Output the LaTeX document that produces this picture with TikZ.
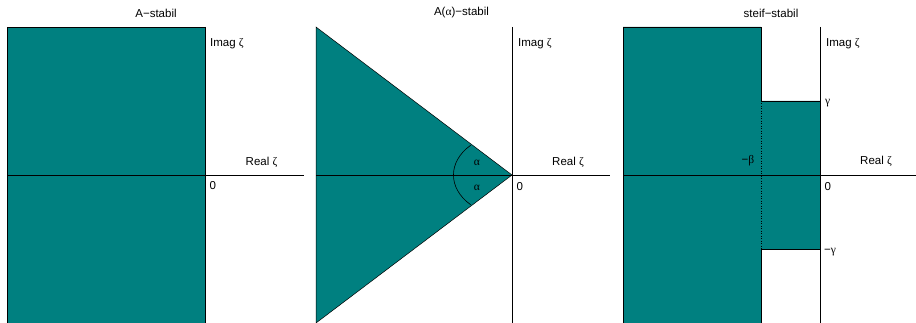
\documentclass[tikz,border=0pt]{standalone}
\usepackage{fontspec}
\setmainfont{Liberation Sans}
\newfontfamily\grk{Liberation Serif}
\definecolor{regfill}{RGB}{0,128,128}
\begin{document}
\begin{tikzpicture}[x=1pt,y=-1pt,
  region/.style={fill=regfill,draw=black,line width=0.5pt},
  axis/.style={draw=black,line width=0.6pt},
  lbl/.style={inner sep=0pt,font=\fontsize{11.5}{13}\selectfont},
  title/.style={lbl}]
\useasboundingbox (0,0) rectangle (916,323);
% ---------- Panel 1 ----------
\fill[region] (7,27) rectangle (205,323);
\coordinate (a1l) at (7,175); \coordinate (a1r) at (304,175);
\coordinate (a1t) at (205,27); \coordinate (a1b) at (205,323);
\draw[axis] (a1l) -- (a1r);
\draw[axis] (a1t) -- (a1b);
\node[title] (t1) at (156,13) {A−stabil};
\node[lbl,anchor=west] (im1) at (210,44) {Imag {\grk ζ}};
\node[lbl,anchor=west] (re1) at (245.5,162) {Real {\grk ζ}};
\node[lbl,anchor=west] (z1) at (209.5,186) {0};
% ---------- Panel 2 ----------
\coordinate (apex) at (512,175);
\fill[region] (316,27) -- (apex) -- (316,323) -- cycle;
\coordinate (a2l) at (316,175); \coordinate (a2r) at (610,175);
\coordinate (a2t) at (512,27); \coordinate (a2b) at (512,323);
\draw[axis] (a2l) -- (a2r);
\draw[axis] (a2t) -- (a2b);
\coordinate (arcs) at (470.6,145.3);
\draw[black,line width=0.6pt] (arcs) arc[start angle=225,end angle=135,x radius=58.5,y radius=42];
\node[title] (t2) at (461.5,13) {A({\grk α})−stabil};
\node[lbl] (al1) at (477,163) {\grk α};
\node[lbl] (al2) at (477,188) {\grk α};
\node[lbl,anchor=west] (im2) at (518,44) {Imag {\grk ζ}};
\node[lbl,anchor=west] (re2) at (552,162) {Real {\grk ζ}};
\node[lbl,anchor=west] (z2) at (516.5,187) {0};
% ---------- Panel 3 ----------
\fill[region] (623,27) -- (761,27) -- (761,101) -- (820,101) -- (820,249) -- (761,249) -- (761,323) -- (623,323) -- cycle;
\coordinate (dt) at (761,101); \coordinate (db) at (761,249);
\draw[black,line width=0.5pt,dotted] (dt) -- (db);
\coordinate (a3l) at (623,175); \coordinate (a3r) at (916,175);
\coordinate (a3t) at (820,27); \coordinate (a3b) at (820,323);
\draw[axis] (a3l) -- (a3r);
\draw[axis] (a3t) -- (a3b);
\node[title] (t3) at (771,13) {steif−stabil};
\node[lbl,anchor=west] (im3) at (826,44) {Imag {\grk ζ}};
\node[lbl,anchor=west] (g1) at (825,103) {\grk γ};
\node[lbl,anchor=west] (g2) at (824,252) {−{\grk γ}};
\node[lbl] (mb) at (748,161) {−{\grk β}};
\node[lbl,anchor=west] (re3) at (860,161) {Real {\grk ζ}};
\node[lbl,anchor=west] (z3) at (824.5,187) {0};
\end{tikzpicture}
\end{document}
